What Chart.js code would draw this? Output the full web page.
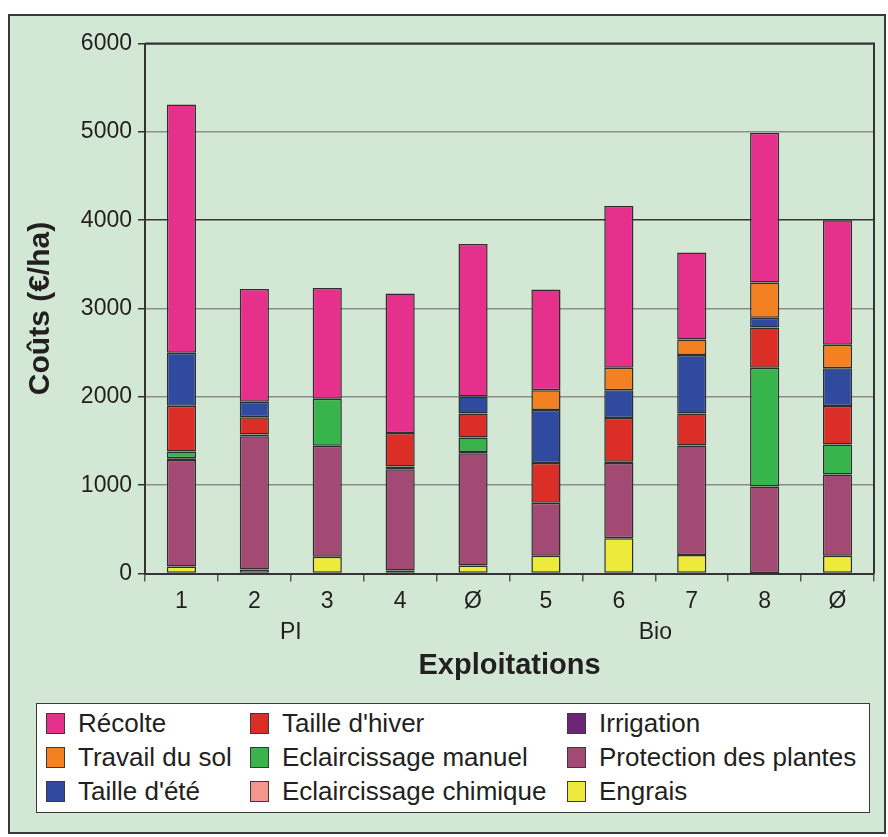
<!DOCTYPE html>
<html>
<head>
<meta charset="utf-8">
<script src="https://cdn.jsdelivr.net/npm/chart.js@4/dist/chart.umd.min.js"></script>
<style>
  html, body { margin: 0; padding: 0; background: #ffffff; }
  body { width: 888px; height: 837px; position: relative; overflow: hidden;
         font-family: "Liberation Sans", Arial, Helvetica, sans-serif; color: #231f20; }
  #frame { position: absolute; left: 8px; top: 14px; width: 874px; height: 816px;
           background: #d3e8d4; border: 2px solid #3a3a3a; }
  #wrap { position: absolute; left: 0; top: 0; width: 888px; height: 837px; }
  #legend { position: absolute; left: 36px; top: 703px; width: 832px; height: 108px;
            background: #ffffff; border: 1.5px solid #3a3a3a; }
  .item { position: absolute; height: 30px; display: flex; align-items: center;
          font-size: 26px; white-space: nowrap; }
  .sw { width: 19px; height: 21px; border: 1px solid #3a3a3a; margin-right: 13px; box-sizing: border-box; }
</style>
</head>
<body>
<div id="frame"></div>
<div id="wrap"><canvas id="c" width="888" height="837"></canvas></div>
<div id="legend"></div>
<script>
// Farms: integrated production (PI) 1-4 with mean, organic (Bio) 5-8 with mean
const categories = ['1', '2', '3', '4', 'Ø', '5', '6', '7', '8', 'Ø'];
const groupLabels = ['PI', 'Bio'];

// Costs in €/ha, stacked from bottom to top
const engrais      = [80, 45, 190, 35, 90, 200, 400, 210, 5, 200];
const protection   = [1205, 1510, 1257, 1145, 1270, 600, 850, 1240, 980, 920];
const irrigation   = [20, 20, 0, 30, 15, 0, 15, 0, 0, 0];
const eclChimique  = [0, 0, 0, 0, 0, 0, 0, 0, 0, 0];
const eclManuel    = [75, 0, 530, 0, 165, 0, 0, 0, 1345, 340];
const tailleHiver  = [520, 195, 0, 380, 270, 450, 495, 360, 455, 435];
const tailleEte    = [600, 175, 0, 0, 195, 600, 315, 665, 110, 430];
const travailSol   = [0, 0, 0, 0, 0, 225, 255, 175, 400, 265];
const recolte      = [2810, 1275, 1255, 1580, 1725, 1140, 1830, 985, 1695, 1410];

const yTicks = [0, 1000, 2000, 3000, 4000, 5000, 6000];

const series = [
  { label: 'Engrais', data: engrais, color: '#eeea3c' },
  { label: 'Protection des plantes', data: protection, color: '#a34a74' },
  { label: 'Irrigation', data: irrigation, color: '#6e2477' },
  { label: 'Eclaircissage chimique', data: eclChimique, color: '#f4968e' },
  { label: 'Eclaircissage manuel', data: eclManuel, color: '#37b44b' },
  { label: "Taille d'hiver", data: tailleHiver, color: '#da2e27' },
  { label: "Taille d'été", data: tailleEte, color: '#2f4a9e' },
  { label: 'Travail du sol', data: travailSol, color: '#f38121' },
  { label: 'Récolte', data: recolte, color: '#e5318c' }
];

// Legend: three columns, read top to bottom
const legendCols = [
  ['Récolte', 'Travail du sol', "Taille d'été"],
  ["Taille d'hiver", 'Eclaircissage manuel', 'Eclaircissage chimique'],
  ['Irrigation', 'Protection des plantes', 'Engrais']
];
const colX = [9, 213, 530];
const rowY = [4, 38, 72];
const legendEl = document.getElementById('legend');
legendCols.forEach((col, ci) => col.forEach((name, ri) => {
  const s = series.find(d => d.label === name);
  const it = document.createElement('div');
  it.className = 'item';
  it.style.left = colX[ci] + 'px';
  it.style.top = rowY[ri] + 'px';
  const sw = document.createElement('span');
  sw.className = 'sw';
  sw.style.background = s.color;
  const tx = document.createElement('span');
  tx.textContent = name;
  it.appendChild(sw); it.appendChild(tx);
  legendEl.appendChild(it);
}));

const FONT = '"Liberation Sans", Arial, Helvetica, sans-serif';

// Frame of the plot area, group labels and axis titles
const decorations = {
  id: 'decorations',
  afterDatasetsDraw(chart) {
    const { ctx, chartArea: a, scales: { x } } = chart;
    ctx.save();
    ctx.strokeStyle = '#333';
    ctx.lineWidth = 2;
    ctx.beginPath();
    ctx.moveTo(a.left, a.top);
    ctx.lineTo(a.right, a.top);
    ctx.lineTo(a.right, a.bottom);
    ctx.stroke();

    ctx.fillStyle = '#231f20';
    ctx.textAlign = 'center';
    ctx.textBaseline = 'middle';
    ctx.font = '23px ' + FONT;
    // each group label sits under its four farms
    const mid = (i, j) => (x.getPixelForValue(i) + x.getPixelForValue(j)) / 2;
    ctx.fillText(groupLabels[0], mid(0, 3), 633);
    ctx.fillText(groupLabels[1], mid(5, 8), 633);

    ctx.font = 'bold 29px ' + FONT;
    ctx.fillText('Exploitations', (a.left + a.right) / 2, 666);

    ctx.font = 'bold 30px ' + FONT;
    ctx.translate(41, (a.top + a.bottom) / 2);
    ctx.rotate(-Math.PI / 2);
    ctx.fillText('Coûts (€/ha)', 0, 0);
    ctx.restore();
  }
};

new Chart(document.getElementById('c'), {
  type: 'bar',
  data: {
    labels: categories,
    datasets: series.map(s => ({
      label: s.label,
      data: s.data,
      backgroundColor: s.color,
      borderColor: '#2e2e2e',
      borderWidth: 1.5,
      borderSkipped: false,
      barPercentage: 0.4,
      categoryPercentage: 1.0
    }))
  },
  options: {
    responsive: false,
    animation: false,
    layout: { padding: { left: 0, top: 43.5, right: 14, bottom: 0 } },
    plugins: { legend: { display: false }, tooltip: { enabled: false } },
    scales: {
      x: {
        stacked: true,
        offset: true,
        afterFit(s) { s.height = 837 - 573.5; },
        grid: { offset: true, drawOnChartArea: false, drawTicks: true, tickLength: 8, color: '#555', lineWidth: 1.5 },
        border: { color: '#333', width: 2 },
        ticks: { color: '#231f20', font: { family: FONT, size: 23 }, padding: 6, maxRotation: 0 }
      },
      y: {
        stacked: true,
        min: yTicks[0],
        max: yTicks[yTicks.length - 1],
        afterFit(s) { s.width = 145; },
        afterBuildTicks(s) { s.ticks = yTicks.map(v => ({ value: v })); },
        grid: {
          color: c => (c.tick && (c.tick.value === 4000 || c.tick.value === 6000)) ? '#333' : '#8c8c8c',
          lineWidth: 1.5,
          tickLength: 7,
          tickColor: '#333'
        },
        border: { color: '#333', width: 2 },
        ticks: { color: '#231f20', font: { family: FONT, size: 23 }, padding: 6,
                 callback: v => String(v) }
      }
    }
  },
  plugins: [decorations]
});
</script>
</body>
</html>
